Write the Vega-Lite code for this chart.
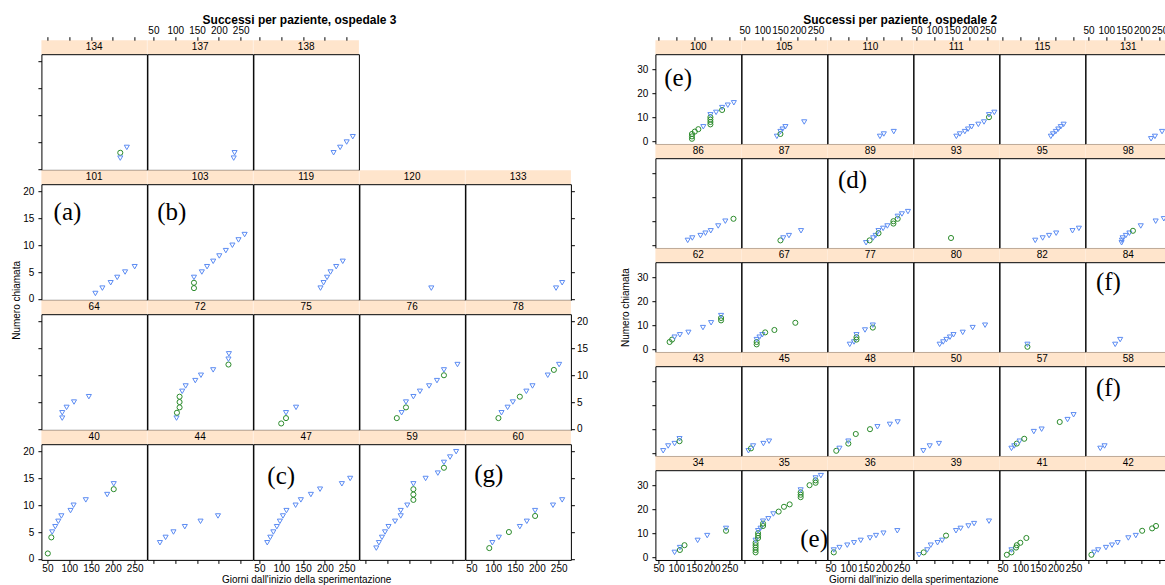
{"$schema":"https://vega.github.io/schema/vega-lite/v6.json","padding":{"left":10.4,"top":13.2,"right":0,"bottom":0},
"datasets":{
"d3":[{"p":134,"g":217,"n":3,"t":"a"},{"p":134,"g":217,"n":2,"t":"b"},{"p":134,"g":232,"n":4,"t":"b"},
{"p":137,"g":236,"n":3,"t":"b"},{"p":137,"g":234,"n":2,"t":"b"},
{"p":138,"g":220,"n":3,"t":"b"},{"p":138,"g":235,"n":4,"t":"b"},{"p":138,"g":250,"n":5,"t":"b"},{"p":138,"g":264,"n":6,"t":"b"},
{"p":101,"g":160,"n":1,"t":"b"},{"p":101,"g":176,"n":2,"t":"b"},{"p":101,"g":195,"n":3,"t":"b"},{"p":101,"g":210,"n":4,"t":"b"},{"p":101,"g":228,"n":5,"t":"b"},{"p":101,"g":250,"n":6,"t":"b"},
{"p":103,"g":143,"n":2,"t":"a"},{"p":103,"g":143,"n":3,"t":"a"},{"p":103,"g":143,"n":4,"t":"b"},{"p":103,"g":161,"n":5,"t":"b"},{"p":103,"g":173,"n":6,"t":"b"},{"p":103,"g":187,"n":7,"t":"b"},{"p":103,"g":201,"n":8,"t":"b"},{"p":103,"g":216,"n":9,"t":"b"},{"p":103,"g":231,"n":10,"t":"b"},{"p":103,"g":245,"n":11,"t":"b"},{"p":103,"g":259,"n":12,"t":"b"},
{"p":119,"g":190,"n":2,"t":"b"},{"p":119,"g":197,"n":3,"t":"b"},{"p":119,"g":205,"n":4,"t":"b"},{"p":119,"g":213,"n":5,"t":"b"},{"p":119,"g":226,"n":6,"t":"b"},{"p":119,"g":241,"n":7,"t":"b"},
{"p":120,"g":201,"n":2,"t":"b"},
{"p":133,"g":244,"n":2,"t":"b"},{"p":133,"g":258,"n":3,"t":"b"},
{"p":64,"g":84,"n":2,"t":"b"},{"p":64,"g":84,"n":3,"t":"b"},{"p":64,"g":94,"n":4,"t":"b"},{"p":64,"g":111,"n":5,"t":"b"},{"p":64,"g":145,"n":6,"t":"b"},
{"p":72,"g":103,"n":2,"t":"b"},{"p":72,"g":104,"n":3,"t":"a"},{"p":72,"g":110,"n":4,"t":"a"},{"p":72,"g":110,"n":5,"t":"a"},{"p":72,"g":110,"n":6,"t":"a"},{"p":72,"g":116,"n":7,"t":"b"},{"p":72,"g":124,"n":8,"t":"b"},{"p":72,"g":146,"n":9,"t":"b"},{"p":72,"g":159,"n":10,"t":"b"},{"p":72,"g":187,"n":11,"t":"b"},{"p":72,"g":222,"n":12,"t":"a"},{"p":72,"g":222,"n":13,"t":"b"},{"p":72,"g":223,"n":14,"t":"b"},
{"p":75,"g":100,"n":1,"t":"a"},{"p":75,"g":111,"n":2,"t":"a"},{"p":75,"g":111,"n":3,"t":"b"},{"p":75,"g":134,"n":4,"t":"b"},
{"p":76,"g":122,"n":2,"t":"a"},{"p":76,"g":133,"n":3,"t":"b"},{"p":76,"g":143,"n":4,"t":"a"},{"p":76,"g":143,"n":5,"t":"b"},{"p":76,"g":160,"n":6,"t":"b"},{"p":76,"g":175,"n":7,"t":"b"},{"p":76,"g":196,"n":8,"t":"b"},{"p":76,"g":214,"n":9,"t":"b"},{"p":76,"g":230,"n":10,"t":"a"},{"p":76,"g":230,"n":11,"t":"b"},{"p":76,"g":261,"n":12,"t":"b"},
{"p":78,"g":112,"n":2,"t":"a"},{"p":78,"g":119,"n":3,"t":"b"},{"p":78,"g":133,"n":4,"t":"b"},{"p":78,"g":145,"n":5,"t":"b"},{"p":78,"g":161,"n":6,"t":"a"},{"p":78,"g":176,"n":7,"t":"b"},{"p":78,"g":190,"n":8,"t":"b"},{"p":78,"g":225,"n":10,"t":"b"},{"p":78,"g":239,"n":11,"t":"a"},{"p":78,"g":251,"n":12,"t":"b"},
{"p":40,"g":51,"n":1,"t":"a"},{"p":40,"g":59,"n":4,"t":"a"},{"p":40,"g":61,"n":5,"t":"b"},{"p":40,"g":68,"n":6,"t":"b"},{"p":40,"g":75,"n":7,"t":"b"},{"p":40,"g":82,"n":8,"t":"b"},{"p":40,"g":103,"n":9,"t":"b"},{"p":40,"g":110,"n":10,"t":"b"},{"p":40,"g":138,"n":11,"t":"b"},{"p":40,"g":187,"n":12,"t":"b"},{"p":40,"g":202,"n":13,"t":"a"},{"p":40,"g":202,"n":14,"t":"b"},
{"p":44,"g":65,"n":3,"t":"b"},{"p":44,"g":78,"n":4,"t":"b"},{"p":44,"g":96,"n":5,"t":"b"},{"p":44,"g":122,"n":6,"t":"b"},{"p":44,"g":158,"n":7,"t":"b"},{"p":44,"g":198,"n":8,"t":"b"},
{"p":47,"g":68,"n":3,"t":"b"},{"p":47,"g":75,"n":4,"t":"b"},{"p":47,"g":82,"n":5,"t":"b"},{"p":47,"g":90,"n":6,"t":"b"},{"p":47,"g":97,"n":7,"t":"b"},{"p":47,"g":104,"n":8,"t":"b"},{"p":47,"g":112,"n":9,"t":"b"},{"p":47,"g":133,"n":10,"t":"b"},{"p":47,"g":145,"n":11,"t":"b"},{"p":47,"g":168,"n":12,"t":"b"},{"p":47,"g":189,"n":13,"t":"b"},{"p":47,"g":239,"n":14,"t":"b"},{"p":47,"g":258,"n":15,"t":"b"},
{"p":59,"g":75,"n":2,"t":"b"},{"p":59,"g":81,"n":3,"t":"b"},{"p":59,"g":88,"n":4,"t":"b"},{"p":59,"g":95,"n":5,"t":"b"},{"p":59,"g":103,"n":6,"t":"b"},{"p":59,"g":118,"n":7,"t":"b"},{"p":59,"g":131,"n":8,"t":"b"},{"p":59,"g":131,"n":9,"t":"b"},{"p":59,"g":146,"n":10,"t":"b"},{"p":59,"g":160,"n":11,"t":"a"},{"p":59,"g":160,"n":12,"t":"a"},{"p":59,"g":160,"n":13,"t":"a"},{"p":59,"g":160,"n":14,"t":"b"},{"p":59,"g":188,"n":15,"t":"b"},{"p":59,"g":216,"n":16,"t":"b"},{"p":59,"g":230,"n":17,"t":"a"},{"p":59,"g":230,"n":18,"t":"b"},{"p":59,"g":244,"n":19,"t":"b"},{"p":59,"g":258,"n":20,"t":"b"},
{"p":60,"g":91,"n":2,"t":"a"},{"p":60,"g":98,"n":3,"t":"b"},{"p":60,"g":113,"n":4,"t":"b"},{"p":60,"g":136,"n":5,"t":"a"},{"p":60,"g":161,"n":6,"t":"b"},{"p":60,"g":177,"n":7,"t":"b"},{"p":60,"g":196,"n":8,"t":"a"},{"p":60,"g":196,"n":9,"t":"b"},{"p":60,"g":237,"n":10,"t":"b"},{"p":60,"g":258,"n":11,"t":"b"}],
"d2":[{"p":100,"g":144,"n":1,"t":"a"},{"p":100,"g":144,"n":2,"t":"a"},{"p":100,"g":144,"n":3,"t":"a"},{"p":100,"g":152,"n":4,"t":"a"},{"p":100,"g":162,"n":5,"t":"a"},{"p":100,"g":176,"n":6,"t":"b"},{"p":100,"g":196,"n":7,"t":"a"},{"p":100,"g":196,"n":8,"t":"a"},{"p":100,"g":196,"n":9,"t":"a"},{"p":100,"g":196,"n":10,"t":"a"},{"p":100,"g":196,"n":11,"t":"b"},{"p":100,"g":212,"n":12,"t":"b"},{"p":100,"g":229,"n":13,"t":"a"},{"p":100,"g":229,"n":14,"t":"b"},{"p":100,"g":245,"n":15,"t":"b"},{"p":100,"g":262,"n":16,"t":"b"},
{"p":105,"g":141,"n":2,"t":"b"},{"p":105,"g":151,"n":3,"t":"a"},{"p":105,"g":151,"n":4,"t":"b"},{"p":105,"g":157,"n":5,"t":"b"},{"p":105,"g":165,"n":6,"t":"b"},{"p":105,"g":218,"n":8,"t":"b"},
{"p":110,"g":189,"n":2,"t":"b"},{"p":110,"g":200,"n":3,"t":"b"},{"p":110,"g":228,"n":4,"t":"b"},
{"p":111,"g":162,"n":2,"t":"b"},{"p":111,"g":172,"n":3,"t":"b"},{"p":111,"g":186,"n":4,"t":"b"},{"p":111,"g":195,"n":5,"t":"b"},{"p":111,"g":205,"n":6,"t":"b"},{"p":111,"g":224,"n":7,"t":"b"},{"p":111,"g":240,"n":8,"t":"b"},{"p":111,"g":254,"n":10,"t":"a"},{"p":111,"g":254,"n":11,"t":"b"},{"p":111,"g":269,"n":12,"t":"b"},
{"p":115,"g":186,"n":2,"t":"b"},{"p":115,"g":192,"n":3,"t":"b"},{"p":115,"g":200,"n":4,"t":"b"},{"p":115,"g":207,"n":5,"t":"b"},{"p":115,"g":214,"n":6,"t":"b"},{"p":115,"g":222,"n":7,"t":"b"},
{"p":131,"g":226,"n":1,"t":"b"},{"p":131,"g":237,"n":2,"t":"b"},{"p":131,"g":257,"n":4,"t":"b"},
{"p":86,"g":132,"n":2,"t":"b"},{"p":86,"g":145,"n":3,"t":"b"},{"p":86,"g":168,"n":4,"t":"b"},{"p":86,"g":182,"n":5,"t":"b"},{"p":86,"g":197,"n":6,"t":"b"},{"p":86,"g":218,"n":8,"t":"b"},{"p":86,"g":238,"n":10,"t":"b"},{"p":86,"g":261,"n":11,"t":"a"},
{"p":87,"g":151,"n":2,"t":"a"},{"p":87,"g":159,"n":3,"t":"b"},{"p":87,"g":175,"n":4,"t":"b"},{"p":87,"g":209,"n":6,"t":"b"},
{"p":89,"g":150,"n":1,"t":"b"},{"p":89,"g":160,"n":2,"t":"a"},{"p":89,"g":170,"n":3,"t":"b"},{"p":89,"g":177,"n":4,"t":"b"},{"p":89,"g":185,"n":5,"t":"a"},{"p":89,"g":185,"n":6,"t":"b"},{"p":89,"g":198,"n":7,"t":"b"},{"p":89,"g":210,"n":8,"t":"b"},{"p":89,"g":227,"n":9,"t":"a"},{"p":89,"g":227,"n":10,"t":"a"},{"p":89,"g":239,"n":11,"t":"a"},{"p":89,"g":239,"n":12,"t":"b"},{"p":89,"g":251,"n":13,"t":"b"},{"p":89,"g":268,"n":14,"t":"b"},
{"p":93,"g":147,"n":3,"t":"a"},
{"p":95,"g":142,"n":2,"t":"b"},{"p":95,"g":163,"n":3,"t":"b"},{"p":95,"g":181,"n":4,"t":"b"},{"p":95,"g":201,"n":5,"t":"b"},{"p":95,"g":247,"n":6,"t":"b"},{"p":95,"g":265,"n":7,"t":"b"},
{"p":98,"g":143,"n":1,"t":"b"},{"p":98,"g":144,"n":2,"t":"b"},{"p":98,"g":146,"n":3,"t":"b"},{"p":98,"g":155,"n":4,"t":"b"},{"p":98,"g":165,"n":5,"t":"b"},{"p":98,"g":175,"n":6,"t":"a"},{"p":98,"g":197,"n":8,"t":"b"},{"p":98,"g":239,"n":10,"t":"b"},{"p":98,"g":262,"n":11,"t":"b"},
{"p":62,"g":81,"n":3,"t":"a"},{"p":62,"g":88,"n":4,"t":"a"},{"p":62,"g":95,"n":5,"t":"b"},{"p":62,"g":110,"n":6,"t":"b"},{"p":62,"g":134,"n":7,"t":"b"},{"p":62,"g":175,"n":9,"t":"b"},{"p":62,"g":198,"n":11,"t":"b"},{"p":62,"g":226,"n":12,"t":"a"},{"p":62,"g":226,"n":13,"t":"a"},{"p":62,"g":226,"n":14,"t":"b"},
{"p":67,"g":84,"n":2,"t":"a"},{"p":67,"g":84,"n":3,"t":"a"},{"p":67,"g":84,"n":4,"t":"b"},{"p":67,"g":92,"n":5,"t":"b"},{"p":67,"g":100,"n":6,"t":"b"},{"p":67,"g":108,"n":7,"t":"a"},{"p":67,"g":134,"n":8,"t":"a"},{"p":67,"g":193,"n":11,"t":"a"},
{"p":77,"g":104,"n":2,"t":"b"},{"p":77,"g":116,"n":3,"t":"b"},{"p":77,"g":123,"n":4,"t":"a"},{"p":77,"g":123,"n":5,"t":"a"},{"p":77,"g":123,"n":6,"t":"b"},{"p":77,"g":147,"n":8,"t":"b"},{"p":77,"g":169,"n":9,"t":"a"},{"p":77,"g":169,"n":10,"t":"b"},
{"p":80,"g":115,"n":2,"t":"b"},{"p":80,"g":125,"n":3,"t":"b"},{"p":80,"g":134,"n":4,"t":"b"},{"p":80,"g":144,"n":5,"t":"b"},{"p":80,"g":154,"n":6,"t":"b"},{"p":80,"g":180,"n":7,"t":"b"},{"p":80,"g":208,"n":9,"t":"b"},{"p":80,"g":243,"n":10,"t":"b"},
{"p":82,"g":120,"n":1,"t":"a"},{"p":82,"g":120,"n":2,"t":"b"},
{"p":84,"g":125,"n":2,"t":"b"},{"p":84,"g":139,"n":4,"t":"b"},
{"p":43,"g":63,"n":1,"t":"b"},{"p":43,"g":77,"n":3,"t":"b"},{"p":43,"g":95,"n":4,"t":"b"},{"p":43,"g":109,"n":5,"t":"a"},{"p":43,"g":109,"n":6,"t":"b"},
{"p":45,"g":61,"n":1,"t":"b"},{"p":45,"g":68,"n":2,"t":"a"},{"p":45,"g":74,"n":3,"t":"b"},{"p":45,"g":103,"n":4,"t":"b"},{"p":45,"g":119,"n":5,"t":"b"},
{"p":48,"g":66,"n":1,"t":"a"},{"p":48,"g":75,"n":2,"t":"b"},{"p":48,"g":100,"n":4,"t":"a"},{"p":48,"g":100,"n":5,"t":"b"},{"p":48,"g":121,"n":8,"t":"a"},{"p":48,"g":161,"n":10,"t":"a"},{"p":48,"g":182,"n":11,"t":"b"},{"p":48,"g":217,"n":12,"t":"b"},{"p":48,"g":239,"n":13,"t":"b"},
{"p":50,"g":69,"n":1,"t":"b"},{"p":50,"g":87,"n":3,"t":"b"},{"p":50,"g":113,"n":4,"t":"b"},
{"p":57,"g":75,"n":2,"t":"b"},{"p":57,"g":83,"n":3,"t":"b"},{"p":57,"g":90,"n":4,"t":"a"},{"p":57,"g":98,"n":5,"t":"b"},{"p":57,"g":111,"n":6,"t":"a"},{"p":57,"g":138,"n":9,"t":"b"},{"p":57,"g":160,"n":10,"t":"b"},{"p":57,"g":211,"n":13,"t":"a"},{"p":57,"g":233,"n":14,"t":"b"},{"p":57,"g":250,"n":16,"t":"b"},
{"p":58,"g":83,"n":2,"t":"b"},{"p":58,"g":95,"n":3,"t":"b"},
{"p":34,"g":95,"n":2,"t":"b"},{"p":34,"g":110,"n":3,"t":"a"},{"p":34,"g":110,"n":4,"t":"b"},{"p":34,"g":123,"n":5,"t":"a"},{"p":34,"g":160,"n":7,"t":"b"},{"p":34,"g":187,"n":9,"t":"b"},{"p":34,"g":240,"n":11,"t":"a"},{"p":34,"g":240,"n":12,"t":"b"},
{"p":35,"g":81,"n":2,"t":"a"},{"p":35,"g":81,"n":3,"t":"a"},{"p":35,"g":81,"n":4,"t":"a"},{"p":35,"g":81,"n":5,"t":"a"},{"p":35,"g":81,"n":6,"t":"a"},{"p":35,"g":81,"n":7,"t":"b"},{"p":35,"g":88,"n":8,"t":"a"},{"p":35,"g":88,"n":9,"t":"a"},{"p":35,"g":88,"n":10,"t":"a"},{"p":35,"g":88,"n":11,"t":"b"},{"p":35,"g":95,"n":12,"t":"b"},{"p":35,"g":102,"n":13,"t":"a"},{"p":35,"g":102,"n":14,"t":"a"},{"p":35,"g":102,"n":15,"t":"b"},{"p":35,"g":117,"n":16,"t":"b"},{"p":35,"g":131,"n":18,"t":"b"},{"p":35,"g":146,"n":19,"t":"a"},{"p":35,"g":161,"n":21,"t":"a"},{"p":35,"g":177,"n":22,"t":"a"},{"p":35,"g":208,"n":25,"t":"a"},{"p":35,"g":208,"n":26,"t":"a"},{"p":35,"g":208,"n":27,"t":"a"},{"p":35,"g":208,"n":28,"t":"b"},{"p":35,"g":233,"n":30,"t":"a"},{"p":35,"g":250,"n":31,"t":"a"},{"p":35,"g":250,"n":32,"t":"a"},{"p":35,"g":250,"n":33,"t":"b"},{"p":35,"g":265,"n":34,"t":"b"},
{"p":36,"g":59,"n":2,"t":"a"},{"p":36,"g":59,"n":3,"t":"b"},{"p":36,"g":75,"n":4,"t":"b"},{"p":36,"g":97,"n":5,"t":"b"},{"p":36,"g":116,"n":6,"t":"b"},{"p":36,"g":135,"n":7,"t":"b"},{"p":36,"g":161,"n":8,"t":"b"},{"p":36,"g":178,"n":9,"t":"b"},{"p":36,"g":199,"n":10,"t":"b"},{"p":36,"g":238,"n":11,"t":"b"},
{"p":39,"g":57,"n":1,"t":"b"},{"p":39,"g":70,"n":2,"t":"a"},{"p":39,"g":80,"n":3,"t":"b"},{"p":39,"g":90,"n":5,"t":"b"},{"p":39,"g":109,"n":6,"t":"b"},{"p":39,"g":122,"n":7,"t":"b"},{"p":39,"g":133,"n":9,"t":"a"},{"p":39,"g":161,"n":11,"t":"b"},{"p":39,"g":174,"n":12,"t":"b"},{"p":39,"g":196,"n":13,"t":"b"},{"p":39,"g":212,"n":14,"t":"b"},{"p":39,"g":254,"n":15,"t":"b"},
{"p":41,"g":62,"n":1,"t":"a"},{"p":41,"g":75,"n":2,"t":"a"},{"p":41,"g":75,"n":3,"t":"b"},{"p":41,"g":88,"n":4,"t":"a"},{"p":41,"g":90,"n":5,"t":"a"},{"p":41,"g":100,"n":6,"t":"a"},{"p":41,"g":117,"n":8,"t":"a"},
{"p":42,"g":58,"n":1,"t":"a"},{"p":42,"g":66,"n":2,"t":"b"},{"p":42,"g":77,"n":3,"t":"b"},{"p":42,"g":99,"n":4,"t":"b"},{"p":42,"g":116,"n":5,"t":"b"},{"p":42,"g":132,"n":6,"t":"b"},{"p":42,"g":162,"n":8,"t":"b"},{"p":42,"g":183,"n":9,"t":"b"},{"p":42,"g":201,"n":11,"t":"a"},{"p":42,"g":229,"n":12,"t":"a"},{"p":42,"g":240,"n":13,"t":"a"}],
"ann":[{"p":101,"g":96,"n":16.3,"lab":"(a)"},{"p":103,"g":92,"n":16.3,"lab":"(b)"},{"p":47,"g":100,"n":15.4,"lab":"(c)"},{"p":60,"g":90,"n":15.8,"lab":"(g)"},{"p":100,"g":105,"n":26.4,"lab":"(e)"},{"p":89,"g":112,"n":27.3,"lab":"(d)"},{"p":84,"g":106,"n":28.2,"lab":"(f)"},{"p":58,"g":106,"n":27.1,"lab":"(f)"},{"p":35,"g":246,"n":7.5,"lab":"(e)"}]},
"hconcat":[
{"data":{"name":"d3"},"title":{"text":"Successi per paziente, ospedale 3","offset":-1.4,"dx":0},"columns":5,"spacing":0,"bounds":"flush","align":"each","concat":[
{"width":105.5,"height":14,"view":{"fill":"#ffe5cc"},"transform":[{"filter":"datum.p==134"},{"aggregate":[{"op":"count","as":"k"}],"groupby":["p"]}],"mark":"text","encoding":{"text":{"field":"p","type":"nominal"}}},
{"width":105.5,"height":14,"view":{"fill":"#ffe5cc"},"transform":[{"filter":"datum.p==137"},{"aggregate":[{"op":"count","as":"k"}],"groupby":["p"]}],"mark":"text","encoding":{"text":{"field":"p","type":"nominal"}}},
{"width":105.5,"height":14,"view":{"fill":"#ffe5cc"},"transform":[{"filter":"datum.p==138"},{"aggregate":[{"op":"count","as":"k"}],"groupby":["p"]}],"mark":"text","encoding":{"text":{"field":"p","type":"nominal"}}},
{"width":105.5,"height":14,"view":{"stroke":null},"transform":[{"filter":"false"}],"mark":"point"},
{"width":105.5,"height":14,"view":{"stroke":null},"transform":[{"filter":"false"}],"mark":"point"},
{"width":105.5,"height":115.7,"transform":[{"filter":"datum.p==134"}],"mark":"point","encoding":{"x":{"field":"g","type":"quantitative","scale":{"domain":[36.3,278]},"axis":{"orient":"top","offset":14,"values":[50,100,150,200,250],"labels":false,"title":null}},"y":{"field":"n","type":"quantitative","scale":{"domain":[-0.2,21.4]},"axis":{"orient":"left","values":[0,5,10,15,20],"labels":false,"title":null}},"color":{"field":"t","type":"nominal"},"shape":{"field":"t","type":"nominal"}}},
{"width":105.5,"height":115.7,"transform":[{"filter":"datum.p==137"}],"mark":"point","encoding":{"x":{"field":"g","type":"quantitative","scale":{"domain":[36.3,278]},"axis":{"orient":"top","offset":14,"values":[50,100,150,200,250],"title":null}},"y":{"field":"n","type":"quantitative","scale":{"domain":[-0.2,21.4]},"axis":null},"color":{"field":"t","type":"nominal"},"shape":{"field":"t","type":"nominal"}}},
{"width":105.5,"height":115.7,"transform":[{"filter":"datum.p==138"}],"mark":"point","encoding":{"x":{"field":"g","type":"quantitative","scale":{"domain":[36.3,278]},"axis":{"orient":"top","offset":14,"values":[50,100,150,200,250],"labels":false,"title":null}},"y":{"field":"n","type":"quantitative","scale":{"domain":[-0.2,21.4]},"axis":null},"color":{"field":"t","type":"nominal"},"shape":{"field":"t","type":"nominal"}}},
{"width":105.5,"height":115.7,"view":{"stroke":null},"transform":[{"filter":"false"}],"mark":"point"},
{"width":105.5,"height":115.7,"view":{"stroke":null},"transform":[{"filter":"false"}],"mark":"point"},
{"width":105.5,"height":14,"view":{"fill":"#ffe5cc"},"transform":[{"filter":"datum.p==101"},{"aggregate":[{"op":"count","as":"k"}],"groupby":["p"]}],"mark":"text","encoding":{"text":{"field":"p","type":"nominal"}}},
{"width":105.5,"height":14,"view":{"fill":"#ffe5cc"},"transform":[{"filter":"datum.p==103"},{"aggregate":[{"op":"count","as":"k"}],"groupby":["p"]}],"mark":"text","encoding":{"text":{"field":"p","type":"nominal"}}},
{"width":105.5,"height":14,"view":{"fill":"#ffe5cc"},"transform":[{"filter":"datum.p==119"},{"aggregate":[{"op":"count","as":"k"}],"groupby":["p"]}],"mark":"text","encoding":{"text":{"field":"p","type":"nominal"}}},
{"width":105.5,"height":14,"view":{"fill":"#ffe5cc"},"transform":[{"filter":"datum.p==120"},{"aggregate":[{"op":"count","as":"k"}],"groupby":["p"]}],"mark":"text","encoding":{"text":{"field":"p","type":"nominal"}}},
{"width":105.5,"height":14,"view":{"fill":"#ffe5cc"},"transform":[{"filter":"datum.p==133"},{"aggregate":[{"op":"count","as":"k"}],"groupby":["p"]}],"mark":"text","encoding":{"text":{"field":"p","type":"nominal"}}},
{"width":105.5,"height":115.7,"transform":[{"filter":"datum.p==101"}],"encoding":{"x":{"field":"g","type":"quantitative","scale":{"domain":[36.3,278]},"axis":null},"y":{"field":"n","type":"quantitative","scale":{"domain":[-0.2,21.4]},"axis":{"orient":"left","values":[0,5,10,15,20],"title":"Numero chiamata","titleAnchor":"start","titleAlign":"center","titlePadding":1.3}}},"layer":[{"mark":"point","encoding":{"color":{"field":"t","type":"nominal"},"shape":{"field":"t","type":"nominal"}}},{"data":{"name":"ann"},"transform":[{"filter":"datum.p==101"}],"mark":{"type":"text","font":"Liberation Serif","fontSize":25},"encoding":{"text":{"field":"lab","type":"nominal"}}}]},
{"width":105.5,"height":115.7,"transform":[{"filter":"datum.p==103"}],"encoding":{"x":{"field":"g","type":"quantitative","scale":{"domain":[36.3,278]},"axis":null},"y":{"field":"n","type":"quantitative","scale":{"domain":[-0.2,21.4]},"axis":null}},"layer":[{"mark":"point","encoding":{"color":{"field":"t","type":"nominal"},"shape":{"field":"t","type":"nominal"}}},{"data":{"name":"ann"},"transform":[{"filter":"datum.p==103"}],"mark":{"type":"text","font":"Liberation Serif","fontSize":25},"encoding":{"text":{"field":"lab","type":"nominal"}}}]},
{"width":105.5,"height":115.7,"transform":[{"filter":"datum.p==119"}],"mark":"point","encoding":{"x":{"field":"g","type":"quantitative","scale":{"domain":[36.3,278]},"axis":null},"y":{"field":"n","type":"quantitative","scale":{"domain":[-0.2,21.4]},"axis":null},"color":{"field":"t","type":"nominal"},"shape":{"field":"t","type":"nominal"}}},
{"width":105.5,"height":115.7,"transform":[{"filter":"datum.p==120"}],"mark":"point","encoding":{"x":{"field":"g","type":"quantitative","scale":{"domain":[36.3,278]},"axis":null},"y":{"field":"n","type":"quantitative","scale":{"domain":[-0.2,21.4]},"axis":null},"color":{"field":"t","type":"nominal"},"shape":{"field":"t","type":"nominal"}}},
{"width":105.5,"height":115.7,"transform":[{"filter":"datum.p==133"}],"mark":"point","encoding":{"x":{"field":"g","type":"quantitative","scale":{"domain":[36.3,278]},"axis":null},"y":{"field":"n","type":"quantitative","scale":{"domain":[-0.2,21.4]},"axis":{"orient":"right","values":[0,5,10,15,20],"labels":false,"title":null}},"color":{"field":"t","type":"nominal"},"shape":{"field":"t","type":"nominal"}}},
{"width":105.5,"height":14,"view":{"fill":"#ffe5cc"},"transform":[{"filter":"datum.p==64"},{"aggregate":[{"op":"count","as":"k"}],"groupby":["p"]}],"mark":"text","encoding":{"text":{"field":"p","type":"nominal"}}},
{"width":105.5,"height":14,"view":{"fill":"#ffe5cc"},"transform":[{"filter":"datum.p==72"},{"aggregate":[{"op":"count","as":"k"}],"groupby":["p"]}],"mark":"text","encoding":{"text":{"field":"p","type":"nominal"}}},
{"width":105.5,"height":14,"view":{"fill":"#ffe5cc"},"transform":[{"filter":"datum.p==75"},{"aggregate":[{"op":"count","as":"k"}],"groupby":["p"]}],"mark":"text","encoding":{"text":{"field":"p","type":"nominal"}}},
{"width":105.5,"height":14,"view":{"fill":"#ffe5cc"},"transform":[{"filter":"datum.p==76"},{"aggregate":[{"op":"count","as":"k"}],"groupby":["p"]}],"mark":"text","encoding":{"text":{"field":"p","type":"nominal"}}},
{"width":105.5,"height":14,"view":{"fill":"#ffe5cc"},"transform":[{"filter":"datum.p==78"},{"aggregate":[{"op":"count","as":"k"}],"groupby":["p"]}],"mark":"text","encoding":{"text":{"field":"p","type":"nominal"}}},
{"width":105.5,"height":115.7,"transform":[{"filter":"datum.p==64"}],"mark":"point","encoding":{"x":{"field":"g","type":"quantitative","scale":{"domain":[36.3,278]},"axis":null},"y":{"field":"n","type":"quantitative","scale":{"domain":[-0.2,21.4]},"axis":{"orient":"left","values":[0,5,10,15,20],"labels":false,"title":null}},"color":{"field":"t","type":"nominal"},"shape":{"field":"t","type":"nominal"}}},
{"width":105.5,"height":115.7,"transform":[{"filter":"datum.p==72"}],"mark":"point","encoding":{"x":{"field":"g","type":"quantitative","scale":{"domain":[36.3,278]},"axis":null},"y":{"field":"n","type":"quantitative","scale":{"domain":[-0.2,21.4]},"axis":null},"color":{"field":"t","type":"nominal"},"shape":{"field":"t","type":"nominal"}}},
{"width":105.5,"height":115.7,"transform":[{"filter":"datum.p==75"}],"mark":"point","encoding":{"x":{"field":"g","type":"quantitative","scale":{"domain":[36.3,278]},"axis":null},"y":{"field":"n","type":"quantitative","scale":{"domain":[-0.2,21.4]},"axis":null},"color":{"field":"t","type":"nominal"},"shape":{"field":"t","type":"nominal"}}},
{"width":105.5,"height":115.7,"transform":[{"filter":"datum.p==76"}],"mark":"point","encoding":{"x":{"field":"g","type":"quantitative","scale":{"domain":[36.3,278]},"axis":null},"y":{"field":"n","type":"quantitative","scale":{"domain":[-0.2,21.4]},"axis":null},"color":{"field":"t","type":"nominal"},"shape":{"field":"t","type":"nominal"}}},
{"width":105.5,"height":115.7,"transform":[{"filter":"datum.p==78"}],"mark":"point","encoding":{"x":{"field":"g","type":"quantitative","scale":{"domain":[36.3,278]},"axis":null},"y":{"field":"n","type":"quantitative","scale":{"domain":[-0.2,21.4]},"axis":{"orient":"right","values":[0,5,10,15,20],"title":null}},"color":{"field":"t","type":"nominal"},"shape":{"field":"t","type":"nominal"}}},
{"width":105.5,"height":14,"view":{"fill":"#ffe5cc"},"transform":[{"filter":"datum.p==40"},{"aggregate":[{"op":"count","as":"k"}],"groupby":["p"]}],"mark":"text","encoding":{"text":{"field":"p","type":"nominal"}}},
{"width":105.5,"height":14,"view":{"fill":"#ffe5cc"},"transform":[{"filter":"datum.p==44"},{"aggregate":[{"op":"count","as":"k"}],"groupby":["p"]}],"mark":"text","encoding":{"text":{"field":"p","type":"nominal"}}},
{"width":105.5,"height":14,"view":{"fill":"#ffe5cc"},"transform":[{"filter":"datum.p==47"},{"aggregate":[{"op":"count","as":"k"}],"groupby":["p"]}],"mark":"text","encoding":{"text":{"field":"p","type":"nominal"}}},
{"width":105.5,"height":14,"view":{"fill":"#ffe5cc"},"transform":[{"filter":"datum.p==59"},{"aggregate":[{"op":"count","as":"k"}],"groupby":["p"]}],"mark":"text","encoding":{"text":{"field":"p","type":"nominal"}}},
{"width":105.5,"height":14,"view":{"fill":"#ffe5cc"},"transform":[{"filter":"datum.p==60"},{"aggregate":[{"op":"count","as":"k"}],"groupby":["p"]}],"mark":"text","encoding":{"text":{"field":"p","type":"nominal"}}},
{"width":105.5,"height":115.7,"transform":[{"filter":"datum.p==40"}],"mark":"point","encoding":{"x":{"field":"g","type":"quantitative","scale":{"domain":[36.3,278]},"axis":{"orient":"bottom","values":[50,100,150,200,250],"title":null}},"y":{"field":"n","type":"quantitative","scale":{"domain":[-0.2,21.4]},"axis":{"orient":"left","values":[0,5,10,15,20],"title":null}},"color":{"field":"t","type":"nominal"},"shape":{"field":"t","type":"nominal"}}},
{"width":105.5,"height":115.7,"transform":[{"filter":"datum.p==44"}],"mark":"point","encoding":{"x":{"field":"g","type":"quantitative","scale":{"domain":[36.3,278]},"axis":{"orient":"bottom","values":[50,100,150,200,250],"labels":false,"title":null}},"y":{"field":"n","type":"quantitative","scale":{"domain":[-0.2,21.4]},"axis":null},"color":{"field":"t","type":"nominal"},"shape":{"field":"t","type":"nominal"}}},
{"width":105.5,"height":115.7,"transform":[{"filter":"datum.p==47"}],"encoding":{"x":{"field":"g","type":"quantitative","scale":{"domain":[36.3,278]},"axis":{"orient":"bottom","values":[50,100,150,200,250],"title":"Giorni dall'inizio della sperimentazione","titlePadding":0.5}},"y":{"field":"n","type":"quantitative","scale":{"domain":[-0.2,21.4]},"axis":null}},"layer":[{"mark":"point","encoding":{"color":{"field":"t","type":"nominal"},"shape":{"field":"t","type":"nominal"}}},{"data":{"name":"ann"},"transform":[{"filter":"datum.p==47"}],"mark":{"type":"text","font":"Liberation Serif","fontSize":25},"encoding":{"text":{"field":"lab","type":"nominal"}}}]},
{"width":105.5,"height":115.7,"transform":[{"filter":"datum.p==59"}],"mark":"point","encoding":{"x":{"field":"g","type":"quantitative","scale":{"domain":[36.3,278]},"axis":{"orient":"bottom","values":[50,100,150,200,250],"labels":false,"title":null}},"y":{"field":"n","type":"quantitative","scale":{"domain":[-0.2,21.4]},"axis":null},"color":{"field":"t","type":"nominal"},"shape":{"field":"t","type":"nominal"}}},
{"width":105.5,"height":115.7,"transform":[{"filter":"datum.p==60"}],"encoding":{"x":{"field":"g","type":"quantitative","scale":{"domain":[36.3,278]},"axis":{"orient":"bottom","values":[50,100,150,200,250],"title":null}},"y":{"field":"n","type":"quantitative","scale":{"domain":[-0.2,21.4]},"axis":{"orient":"right","values":[0,5,10,15,20],"labels":false,"title":null}}},"layer":[{"mark":"point","encoding":{"color":{"field":"t","type":"nominal"},"shape":{"field":"t","type":"nominal"}}},{"data":{"name":"ann"},"transform":[{"filter":"datum.p==60"}],"mark":{"type":"text","font":"Liberation Serif","fontSize":25},"encoding":{"text":{"field":"lab","type":"nominal"}}}]}
]},
{"data":{"name":"d2"},"title":{"text":"Successi per paziente, ospedale 2","offset":-1.4,"dx":6},"columns":6,"spacing":0,"bounds":"flush","align":"each","concat":[
{"width":85.9,"height":14,"view":{"fill":"#ffe5cc"},"transform":[{"filter":"datum.p==100"},{"aggregate":[{"op":"count","as":"k"}],"groupby":["p"]}],"mark":"text","encoding":{"text":{"field":"p","type":"nominal"}}},
{"width":85.9,"height":14,"view":{"fill":"#ffe5cc"},"transform":[{"filter":"datum.p==105"},{"aggregate":[{"op":"count","as":"k"}],"groupby":["p"]}],"mark":"text","encoding":{"text":{"field":"p","type":"nominal"}}},
{"width":85.9,"height":14,"view":{"fill":"#ffe5cc"},"transform":[{"filter":"datum.p==110"},{"aggregate":[{"op":"count","as":"k"}],"groupby":["p"]}],"mark":"text","encoding":{"text":{"field":"p","type":"nominal"}}},
{"width":85.9,"height":14,"view":{"fill":"#ffe5cc"},"transform":[{"filter":"datum.p==111"},{"aggregate":[{"op":"count","as":"k"}],"groupby":["p"]}],"mark":"text","encoding":{"text":{"field":"p","type":"nominal"}}},
{"width":85.9,"height":14,"view":{"fill":"#ffe5cc"},"transform":[{"filter":"datum.p==115"},{"aggregate":[{"op":"count","as":"k"}],"groupby":["p"]}],"mark":"text","encoding":{"text":{"field":"p","type":"nominal"}}},
{"width":80.5,"height":14,"view":{"fill":"#ffe5cc"},"transform":[{"filter":"datum.p==131"},{"aggregate":[{"op":"count","as":"k"}],"groupby":["p"]}],"mark":{"type":"text","dx":2.7},"encoding":{"text":{"field":"p","type":"nominal"}}},
{"width":85.9,"height":89.8,"transform":[{"filter":"datum.p==100"}],"encoding":{"x":{"field":"g","type":"quantitative","scale":{"domain":[41,283]},"axis":{"orient":"top","offset":14,"values":[50,100,150,200,250],"labels":false,"title":null}},"y":{"field":"n","type":"quantitative","scale":{"domain":[-1.17,36.25]},"axis":{"orient":"left","values":[0,10,20,30],"title":null}}},"layer":[{"mark":"point","encoding":{"color":{"field":"t","type":"nominal"},"shape":{"field":"t","type":"nominal"}}},{"data":{"name":"ann"},"transform":[{"filter":"datum.p==100"}],"mark":{"type":"text","font":"Liberation Serif","fontSize":25},"encoding":{"text":{"field":"lab","type":"nominal"}}}]},
{"width":85.9,"height":89.8,"transform":[{"filter":"datum.p==105"}],"mark":"point","encoding":{"x":{"field":"g","type":"quantitative","scale":{"domain":[41,283]},"axis":{"orient":"top","offset":14,"values":[50,100,150,200,250],"title":null}},"y":{"field":"n","type":"quantitative","scale":{"domain":[-1.17,36.25]},"axis":null},"color":{"field":"t","type":"nominal"},"shape":{"field":"t","type":"nominal"}}},
{"width":85.9,"height":89.8,"transform":[{"filter":"datum.p==110"}],"mark":"point","encoding":{"x":{"field":"g","type":"quantitative","scale":{"domain":[41,283]},"axis":{"orient":"top","offset":14,"values":[50,100,150,200,250],"labels":false,"title":null}},"y":{"field":"n","type":"quantitative","scale":{"domain":[-1.17,36.25]},"axis":null},"color":{"field":"t","type":"nominal"},"shape":{"field":"t","type":"nominal"}}},
{"width":85.9,"height":89.8,"transform":[{"filter":"datum.p==111"}],"mark":"point","encoding":{"x":{"field":"g","type":"quantitative","scale":{"domain":[41,283]},"axis":{"orient":"top","offset":14,"values":[50,100,150,200,250],"title":null}},"y":{"field":"n","type":"quantitative","scale":{"domain":[-1.17,36.25]},"axis":null},"color":{"field":"t","type":"nominal"},"shape":{"field":"t","type":"nominal"}}},
{"width":85.9,"height":89.8,"transform":[{"filter":"datum.p==115"}],"mark":"point","encoding":{"x":{"field":"g","type":"quantitative","scale":{"domain":[41,283]},"axis":{"orient":"top","offset":14,"values":[50,100,150,200,250],"labels":false,"title":null}},"y":{"field":"n","type":"quantitative","scale":{"domain":[-1.17,36.25]},"axis":null},"color":{"field":"t","type":"nominal"},"shape":{"field":"t","type":"nominal"}}},
{"width":80.5,"height":89.8,"transform":[{"filter":"datum.p==131"}],"mark":"point","encoding":{"x":{"field":"g","type":"quantitative","scale":{"domain":[41,267.8]},"axis":{"orient":"top","offset":14,"values":[50,100,150,200,250],"title":null}},"y":{"field":"n","type":"quantitative","scale":{"domain":[-1.17,36.25]},"axis":null},"color":{"field":"t","type":"nominal"},"shape":{"field":"t","type":"nominal"}}},
{"width":85.9,"height":14,"view":{"fill":"#ffe5cc"},"transform":[{"filter":"datum.p==86"},{"aggregate":[{"op":"count","as":"k"}],"groupby":["p"]}],"mark":"text","encoding":{"text":{"field":"p","type":"nominal"}}},
{"width":85.9,"height":14,"view":{"fill":"#ffe5cc"},"transform":[{"filter":"datum.p==87"},{"aggregate":[{"op":"count","as":"k"}],"groupby":["p"]}],"mark":"text","encoding":{"text":{"field":"p","type":"nominal"}}},
{"width":85.9,"height":14,"view":{"fill":"#ffe5cc"},"transform":[{"filter":"datum.p==89"},{"aggregate":[{"op":"count","as":"k"}],"groupby":["p"]}],"mark":"text","encoding":{"text":{"field":"p","type":"nominal"}}},
{"width":85.9,"height":14,"view":{"fill":"#ffe5cc"},"transform":[{"filter":"datum.p==93"},{"aggregate":[{"op":"count","as":"k"}],"groupby":["p"]}],"mark":"text","encoding":{"text":{"field":"p","type":"nominal"}}},
{"width":85.9,"height":14,"view":{"fill":"#ffe5cc"},"transform":[{"filter":"datum.p==95"},{"aggregate":[{"op":"count","as":"k"}],"groupby":["p"]}],"mark":"text","encoding":{"text":{"field":"p","type":"nominal"}}},
{"width":80.5,"height":14,"view":{"fill":"#ffe5cc"},"transform":[{"filter":"datum.p==98"},{"aggregate":[{"op":"count","as":"k"}],"groupby":["p"]}],"mark":{"type":"text","dx":2.7},"encoding":{"text":{"field":"p","type":"nominal"}}},
{"width":85.9,"height":89.8,"transform":[{"filter":"datum.p==86"}],"mark":"point","encoding":{"x":{"field":"g","type":"quantitative","scale":{"domain":[41,283]},"axis":null},"y":{"field":"n","type":"quantitative","scale":{"domain":[-1.17,36.25]},"axis":{"orient":"left","values":[0,10,20,30],"labels":false,"title":null}},"color":{"field":"t","type":"nominal"},"shape":{"field":"t","type":"nominal"}}},
{"width":85.9,"height":89.8,"transform":[{"filter":"datum.p==87"}],"mark":"point","encoding":{"x":{"field":"g","type":"quantitative","scale":{"domain":[41,283]},"axis":null},"y":{"field":"n","type":"quantitative","scale":{"domain":[-1.17,36.25]},"axis":null},"color":{"field":"t","type":"nominal"},"shape":{"field":"t","type":"nominal"}}},
{"width":85.9,"height":89.8,"transform":[{"filter":"datum.p==89"}],"encoding":{"x":{"field":"g","type":"quantitative","scale":{"domain":[41,283]},"axis":null},"y":{"field":"n","type":"quantitative","scale":{"domain":[-1.17,36.25]},"axis":null}},"layer":[{"mark":"point","encoding":{"color":{"field":"t","type":"nominal"},"shape":{"field":"t","type":"nominal"}}},{"data":{"name":"ann"},"transform":[{"filter":"datum.p==89"}],"mark":{"type":"text","font":"Liberation Serif","fontSize":25},"encoding":{"text":{"field":"lab","type":"nominal"}}}]},
{"width":85.9,"height":89.8,"transform":[{"filter":"datum.p==93"}],"mark":"point","encoding":{"x":{"field":"g","type":"quantitative","scale":{"domain":[41,283]},"axis":null},"y":{"field":"n","type":"quantitative","scale":{"domain":[-1.17,36.25]},"axis":null},"color":{"field":"t","type":"nominal"},"shape":{"field":"t","type":"nominal"}}},
{"width":85.9,"height":89.8,"transform":[{"filter":"datum.p==95"}],"mark":"point","encoding":{"x":{"field":"g","type":"quantitative","scale":{"domain":[41,283]},"axis":null},"y":{"field":"n","type":"quantitative","scale":{"domain":[-1.17,36.25]},"axis":null},"color":{"field":"t","type":"nominal"},"shape":{"field":"t","type":"nominal"}}},
{"width":80.5,"height":89.8,"transform":[{"filter":"datum.p==98"}],"mark":"point","encoding":{"x":{"field":"g","type":"quantitative","scale":{"domain":[41,267.8]},"axis":null},"y":{"field":"n","type":"quantitative","scale":{"domain":[-1.17,36.25]},"axis":null},"color":{"field":"t","type":"nominal"},"shape":{"field":"t","type":"nominal"}}},
{"width":85.9,"height":14,"view":{"fill":"#ffe5cc"},"transform":[{"filter":"datum.p==62"},{"aggregate":[{"op":"count","as":"k"}],"groupby":["p"]}],"mark":"text","encoding":{"text":{"field":"p","type":"nominal"}}},
{"width":85.9,"height":14,"view":{"fill":"#ffe5cc"},"transform":[{"filter":"datum.p==67"},{"aggregate":[{"op":"count","as":"k"}],"groupby":["p"]}],"mark":"text","encoding":{"text":{"field":"p","type":"nominal"}}},
{"width":85.9,"height":14,"view":{"fill":"#ffe5cc"},"transform":[{"filter":"datum.p==77"},{"aggregate":[{"op":"count","as":"k"}],"groupby":["p"]}],"mark":"text","encoding":{"text":{"field":"p","type":"nominal"}}},
{"width":85.9,"height":14,"view":{"fill":"#ffe5cc"},"transform":[{"filter":"datum.p==80"},{"aggregate":[{"op":"count","as":"k"}],"groupby":["p"]}],"mark":"text","encoding":{"text":{"field":"p","type":"nominal"}}},
{"width":85.9,"height":14,"view":{"fill":"#ffe5cc"},"transform":[{"filter":"datum.p==82"},{"aggregate":[{"op":"count","as":"k"}],"groupby":["p"]}],"mark":"text","encoding":{"text":{"field":"p","type":"nominal"}}},
{"width":80.5,"height":14,"view":{"fill":"#ffe5cc"},"transform":[{"filter":"datum.p==84"},{"aggregate":[{"op":"count","as":"k"}],"groupby":["p"]}],"mark":{"type":"text","dx":2.7},"encoding":{"text":{"field":"p","type":"nominal"}}},
{"width":85.9,"height":89.8,"transform":[{"filter":"datum.p==62"}],"mark":"point","encoding":{"x":{"field":"g","type":"quantitative","scale":{"domain":[41,283]},"axis":null},"y":{"field":"n","type":"quantitative","scale":{"domain":[-1.17,36.25]},"axis":{"orient":"left","values":[0,10,20,30],"title":"Numero chiamata","titlePadding":6.7}},"color":{"field":"t","type":"nominal"},"shape":{"field":"t","type":"nominal"}}},
{"width":85.9,"height":89.8,"transform":[{"filter":"datum.p==67"}],"mark":"point","encoding":{"x":{"field":"g","type":"quantitative","scale":{"domain":[41,283]},"axis":null},"y":{"field":"n","type":"quantitative","scale":{"domain":[-1.17,36.25]},"axis":null},"color":{"field":"t","type":"nominal"},"shape":{"field":"t","type":"nominal"}}},
{"width":85.9,"height":89.8,"transform":[{"filter":"datum.p==77"}],"mark":"point","encoding":{"x":{"field":"g","type":"quantitative","scale":{"domain":[41,283]},"axis":null},"y":{"field":"n","type":"quantitative","scale":{"domain":[-1.17,36.25]},"axis":null},"color":{"field":"t","type":"nominal"},"shape":{"field":"t","type":"nominal"}}},
{"width":85.9,"height":89.8,"transform":[{"filter":"datum.p==80"}],"mark":"point","encoding":{"x":{"field":"g","type":"quantitative","scale":{"domain":[41,283]},"axis":null},"y":{"field":"n","type":"quantitative","scale":{"domain":[-1.17,36.25]},"axis":null},"color":{"field":"t","type":"nominal"},"shape":{"field":"t","type":"nominal"}}},
{"width":85.9,"height":89.8,"transform":[{"filter":"datum.p==82"}],"mark":"point","encoding":{"x":{"field":"g","type":"quantitative","scale":{"domain":[41,283]},"axis":null},"y":{"field":"n","type":"quantitative","scale":{"domain":[-1.17,36.25]},"axis":null},"color":{"field":"t","type":"nominal"},"shape":{"field":"t","type":"nominal"}}},
{"width":80.5,"height":89.8,"transform":[{"filter":"datum.p==84"}],"encoding":{"x":{"field":"g","type":"quantitative","scale":{"domain":[41,267.8]},"axis":null},"y":{"field":"n","type":"quantitative","scale":{"domain":[-1.17,36.25]},"axis":null}},"layer":[{"mark":"point","encoding":{"color":{"field":"t","type":"nominal"},"shape":{"field":"t","type":"nominal"}}},{"data":{"name":"ann"},"transform":[{"filter":"datum.p==84"}],"mark":{"type":"text","font":"Liberation Serif","fontSize":25},"encoding":{"text":{"field":"lab","type":"nominal"}}}]},
{"width":85.9,"height":14,"view":{"fill":"#ffe5cc"},"transform":[{"filter":"datum.p==43"},{"aggregate":[{"op":"count","as":"k"}],"groupby":["p"]}],"mark":"text","encoding":{"text":{"field":"p","type":"nominal"}}},
{"width":85.9,"height":14,"view":{"fill":"#ffe5cc"},"transform":[{"filter":"datum.p==45"},{"aggregate":[{"op":"count","as":"k"}],"groupby":["p"]}],"mark":"text","encoding":{"text":{"field":"p","type":"nominal"}}},
{"width":85.9,"height":14,"view":{"fill":"#ffe5cc"},"transform":[{"filter":"datum.p==48"},{"aggregate":[{"op":"count","as":"k"}],"groupby":["p"]}],"mark":"text","encoding":{"text":{"field":"p","type":"nominal"}}},
{"width":85.9,"height":14,"view":{"fill":"#ffe5cc"},"transform":[{"filter":"datum.p==50"},{"aggregate":[{"op":"count","as":"k"}],"groupby":["p"]}],"mark":"text","encoding":{"text":{"field":"p","type":"nominal"}}},
{"width":85.9,"height":14,"view":{"fill":"#ffe5cc"},"transform":[{"filter":"datum.p==57"},{"aggregate":[{"op":"count","as":"k"}],"groupby":["p"]}],"mark":"text","encoding":{"text":{"field":"p","type":"nominal"}}},
{"width":80.5,"height":14,"view":{"fill":"#ffe5cc"},"transform":[{"filter":"datum.p==58"},{"aggregate":[{"op":"count","as":"k"}],"groupby":["p"]}],"mark":{"type":"text","dx":2.7},"encoding":{"text":{"field":"p","type":"nominal"}}},
{"width":85.9,"height":89.8,"transform":[{"filter":"datum.p==43"}],"mark":"point","encoding":{"x":{"field":"g","type":"quantitative","scale":{"domain":[41,283]},"axis":null},"y":{"field":"n","type":"quantitative","scale":{"domain":[-1.17,36.25]},"axis":{"orient":"left","values":[0,10,20,30],"labels":false,"title":null}},"color":{"field":"t","type":"nominal"},"shape":{"field":"t","type":"nominal"}}},
{"width":85.9,"height":89.8,"transform":[{"filter":"datum.p==45"}],"mark":"point","encoding":{"x":{"field":"g","type":"quantitative","scale":{"domain":[41,283]},"axis":null},"y":{"field":"n","type":"quantitative","scale":{"domain":[-1.17,36.25]},"axis":null},"color":{"field":"t","type":"nominal"},"shape":{"field":"t","type":"nominal"}}},
{"width":85.9,"height":89.8,"transform":[{"filter":"datum.p==48"}],"mark":"point","encoding":{"x":{"field":"g","type":"quantitative","scale":{"domain":[41,283]},"axis":null},"y":{"field":"n","type":"quantitative","scale":{"domain":[-1.17,36.25]},"axis":null},"color":{"field":"t","type":"nominal"},"shape":{"field":"t","type":"nominal"}}},
{"width":85.9,"height":89.8,"transform":[{"filter":"datum.p==50"}],"mark":"point","encoding":{"x":{"field":"g","type":"quantitative","scale":{"domain":[41,283]},"axis":null},"y":{"field":"n","type":"quantitative","scale":{"domain":[-1.17,36.25]},"axis":null},"color":{"field":"t","type":"nominal"},"shape":{"field":"t","type":"nominal"}}},
{"width":85.9,"height":89.8,"transform":[{"filter":"datum.p==57"}],"mark":"point","encoding":{"x":{"field":"g","type":"quantitative","scale":{"domain":[41,283]},"axis":null},"y":{"field":"n","type":"quantitative","scale":{"domain":[-1.17,36.25]},"axis":null},"color":{"field":"t","type":"nominal"},"shape":{"field":"t","type":"nominal"}}},
{"width":80.5,"height":89.8,"transform":[{"filter":"datum.p==58"}],"encoding":{"x":{"field":"g","type":"quantitative","scale":{"domain":[41,267.8]},"axis":null},"y":{"field":"n","type":"quantitative","scale":{"domain":[-1.17,36.25]},"axis":null}},"layer":[{"mark":"point","encoding":{"color":{"field":"t","type":"nominal"},"shape":{"field":"t","type":"nominal"}}},{"data":{"name":"ann"},"transform":[{"filter":"datum.p==58"}],"mark":{"type":"text","font":"Liberation Serif","fontSize":25},"encoding":{"text":{"field":"lab","type":"nominal"}}}]},
{"width":85.9,"height":14,"view":{"fill":"#ffe5cc"},"transform":[{"filter":"datum.p==34"},{"aggregate":[{"op":"count","as":"k"}],"groupby":["p"]}],"mark":"text","encoding":{"text":{"field":"p","type":"nominal"}}},
{"width":85.9,"height":14,"view":{"fill":"#ffe5cc"},"transform":[{"filter":"datum.p==35"},{"aggregate":[{"op":"count","as":"k"}],"groupby":["p"]}],"mark":"text","encoding":{"text":{"field":"p","type":"nominal"}}},
{"width":85.9,"height":14,"view":{"fill":"#ffe5cc"},"transform":[{"filter":"datum.p==36"},{"aggregate":[{"op":"count","as":"k"}],"groupby":["p"]}],"mark":"text","encoding":{"text":{"field":"p","type":"nominal"}}},
{"width":85.9,"height":14,"view":{"fill":"#ffe5cc"},"transform":[{"filter":"datum.p==39"},{"aggregate":[{"op":"count","as":"k"}],"groupby":["p"]}],"mark":"text","encoding":{"text":{"field":"p","type":"nominal"}}},
{"width":85.9,"height":14,"view":{"fill":"#ffe5cc"},"transform":[{"filter":"datum.p==41"},{"aggregate":[{"op":"count","as":"k"}],"groupby":["p"]}],"mark":"text","encoding":{"text":{"field":"p","type":"nominal"}}},
{"width":80.5,"height":14,"view":{"fill":"#ffe5cc"},"transform":[{"filter":"datum.p==42"},{"aggregate":[{"op":"count","as":"k"}],"groupby":["p"]}],"mark":{"type":"text","dx":2.7},"encoding":{"text":{"field":"p","type":"nominal"}}},
{"width":85.9,"height":89.8,"transform":[{"filter":"datum.p==34"}],"mark":"point","encoding":{"x":{"field":"g","type":"quantitative","scale":{"domain":[41,283]},"axis":{"orient":"bottom","values":[50,100,150,200,250],"title":null}},"y":{"field":"n","type":"quantitative","scale":{"domain":[-1.17,36.25]},"axis":{"orient":"left","values":[0,10,20,30],"title":null}},"color":{"field":"t","type":"nominal"},"shape":{"field":"t","type":"nominal"}}},
{"width":85.9,"height":89.8,"transform":[{"filter":"datum.p==35"}],"encoding":{"x":{"field":"g","type":"quantitative","scale":{"domain":[41,283]},"axis":{"orient":"bottom","values":[50,100,150,200,250],"labels":false,"title":null}},"y":{"field":"n","type":"quantitative","scale":{"domain":[-1.17,36.25]},"axis":null}},"layer":[{"mark":"point","encoding":{"color":{"field":"t","type":"nominal"},"shape":{"field":"t","type":"nominal"}}},{"data":{"name":"ann"},"transform":[{"filter":"datum.p==35"}],"mark":{"type":"text","font":"Liberation Serif","fontSize":25},"encoding":{"text":{"field":"lab","type":"nominal"}}}]},
{"width":85.9,"height":89.8,"transform":[{"filter":"datum.p==36"}],"mark":"point","encoding":{"x":{"field":"g","type":"quantitative","scale":{"domain":[41,283]},"axis":{"orient":"bottom","values":[50,100,150,200,250],"title":"Giorni dall'inizio della sperimentazione","titleAnchor":"end","titleAlign":"center","titlePadding":0.5}},"y":{"field":"n","type":"quantitative","scale":{"domain":[-1.17,36.25]},"axis":null},"color":{"field":"t","type":"nominal"},"shape":{"field":"t","type":"nominal"}}},
{"width":85.9,"height":89.8,"transform":[{"filter":"datum.p==39"}],"mark":"point","encoding":{"x":{"field":"g","type":"quantitative","scale":{"domain":[41,283]},"axis":{"orient":"bottom","values":[50,100,150,200,250],"labels":false,"title":null}},"y":{"field":"n","type":"quantitative","scale":{"domain":[-1.17,36.25]},"axis":null},"color":{"field":"t","type":"nominal"},"shape":{"field":"t","type":"nominal"}}},
{"width":85.9,"height":89.8,"transform":[{"filter":"datum.p==41"}],"mark":"point","encoding":{"x":{"field":"g","type":"quantitative","scale":{"domain":[41,283]},"axis":{"orient":"bottom","values":[50,100,150,200,250],"title":null}},"y":{"field":"n","type":"quantitative","scale":{"domain":[-1.17,36.25]},"axis":null},"color":{"field":"t","type":"nominal"},"shape":{"field":"t","type":"nominal"}}},
{"width":80.5,"height":89.8,"transform":[{"filter":"datum.p==42"}],"mark":"point","encoding":{"x":{"field":"g","type":"quantitative","scale":{"domain":[41,267.8]},"axis":{"orient":"bottom","values":[50,100,150,200,250],"labels":false,"title":null}},"y":{"field":"n","type":"quantitative","scale":{"domain":[-1.17,36.25]},"axis":null},"color":{"field":"t","type":"nominal"},"shape":{"field":"t","type":"nominal"}}}
]}
],
"spacing":31,
"config":{"view":{"stroke":"#000","strokeWidth":1},
"axis":{"labelFont":"Liberation Sans","labelFontSize":10,"labelColor":"#000","tickColor":"#000","tickSize":3.5,"labelPadding":2,"domain":false,"grid":false,"labelOverlap":false,"titleFont":"Liberation Sans","titleFontSize":10,"titleFontWeight":"normal","titleColor":"#000","titlePadding":4},
"axisLeft":{"labelPadding":4},"axisRight":{"labelPadding":2},"axisTop":{"labelPadding":1},"axisBottom":{"labelPadding":0.5},
"point":{"filled":false,"size":26,"strokeWidth":1,"opacity":1},
"text":{"font":"Liberation Sans","fontSize":10,"color":"#000"},
"range":{"category":["#2a8a2a","#5a8bf2"],"symbol":["circle","triangle-down"]},
"legend":{"disable":true},
"title":{"font":"Liberation Sans","fontSize":12,"fontWeight":"bold","color":"#000","anchor":"middle"}}
}
